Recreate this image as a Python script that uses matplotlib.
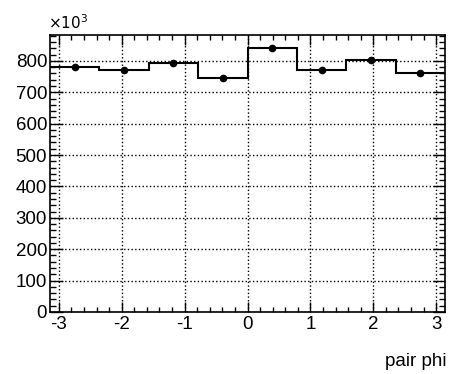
import numpy as np
import matplotlib
matplotlib.use("Agg")
import matplotlib.pyplot as plt
from matplotlib.ticker import MultipleLocator

# histogram contents (entries per bin), 8 bins over [-pi, pi]
bin_edges = np.linspace(-np.pi, np.pi, 9)
counts = [781000, 771000, 793000, 747000, 840000, 771000, 802000, 761000]

plt.rcParams['font.family'] = ['Liberation Sans', 'DejaVu Sans']
plt.rcParams['axes.unicode_minus'] = False

fig = plt.figure(figsize=(4.5, 3.74), dpi=100)
ax = fig.add_axes([0.111, 0.166, 0.878, 0.74])

vals = np.array(counts) / 1000.0
centers = 0.5 * (bin_edges[:-1] + bin_edges[1:])
ax.stairs(vals, bin_edges, color='black', lw=1.5, baseline=None)
ax.plot(centers, vals, 'o', color='black', ms=4.5)

ax.set_xlim(-np.pi, np.pi)
ax.set_ylim(0, max(vals) * 1.05)

ax.xaxis.set_major_locator(MultipleLocator(1))
ax.xaxis.set_minor_locator(MultipleLocator(0.2))
ax.yaxis.set_major_locator(MultipleLocator(100))
ax.yaxis.set_minor_locator(MultipleLocator(20))
ax.tick_params(which='both', direction='in', top=True, right=True,
               labelsize=13.5, width=1)
ax.tick_params(axis='x', which='major', length=7, pad=3)
ax.tick_params(axis='x', which='minor', length=3.5)
ax.tick_params(axis='y', which='major', length=9, pad=2)
ax.tick_params(axis='y', which='minor', length=4.5)
ax.grid(True, which='major', ls=':', color='black', lw=1)

for s in ax.spines.values():
    s.set_linewidth(1.2)

fig.text(0.106, 0.915, r'$\times10^{3}$', fontsize=11, ha='left', va='bottom')
fig.text(0.993, 0.022, 'pair phi', fontsize=13.5, ha='right', va='baseline')

fig.savefig('out.png', dpi=100)
